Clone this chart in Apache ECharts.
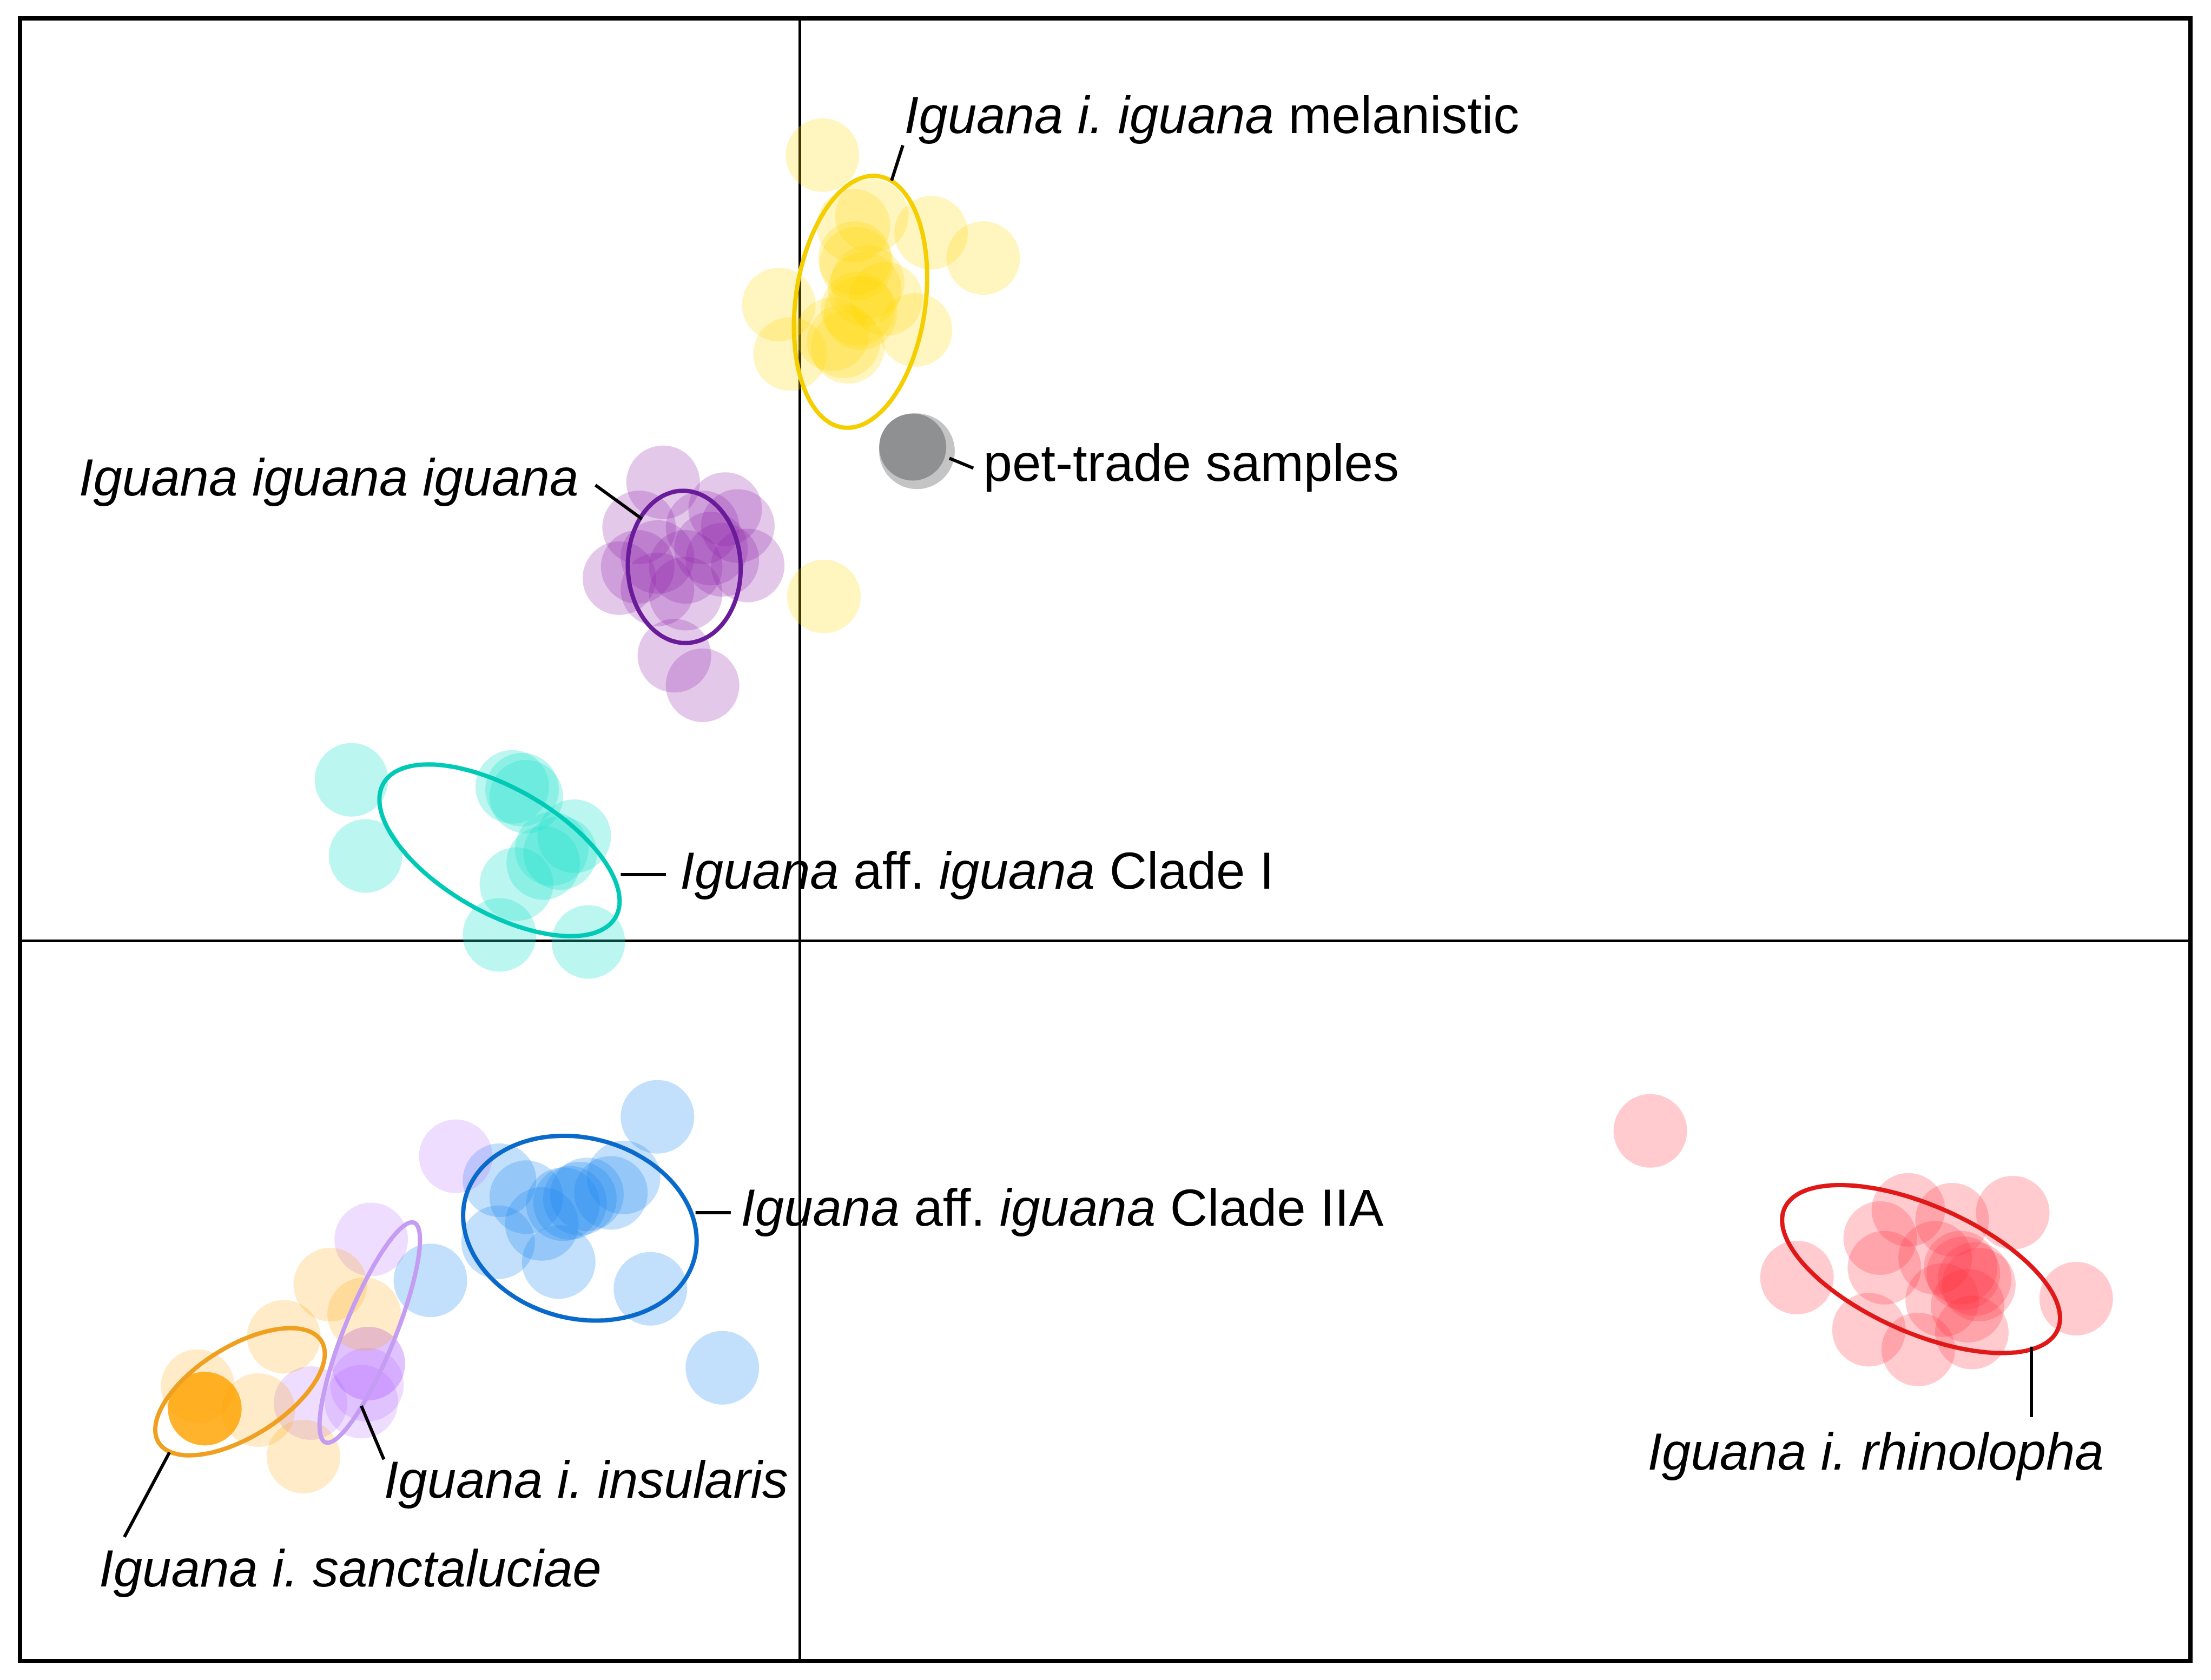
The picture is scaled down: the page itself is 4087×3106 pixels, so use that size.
<!DOCTYPE html>
<html><head><meta charset="utf-8">
<script src="https://cdn.jsdelivr.net/npm/echarts@6/dist/echarts.min.js"></script>
<style>html,body{margin:0;padding:0;background:#fff}#c{width:4087px;height:3106px}</style>
</head><body><div id="c"></div>
<script>
// ---- data (discriminant-function scores) ----
const melanisticPts = [[0.32,11.14],[2.60,9.68],[1.86,10.04],[-0.30,9.02],[-0.14,8.32],[1.64,8.66],[0.78,9.68],[0.80,9.60],[0.96,9.34],[0.92,9.24],[0.86,8.90],[0.82,8.96],[0.68,8.42],[0.62,8.50],[0.46,8.60],[1.02,10.28],[1.22,9.10],[0.76,10.14],[0.34,4.88]];
const iguanaPts = [[-1.94,6.50],[-1.06,6.12],[-0.88,5.88],[-0.74,5.32],[-2.28,5.86],[-2.56,5.14],[-1.78,4.04],[-1.38,3.62],[-1.62,5.30],[-2.02,5.44],[-1.26,5.56],[-1.62,4.92],[-2.02,4.98],[-1.38,5.86],[-1.10,5.40],[-2.30,5.30]];
const clade1Pts = [[-6.36,2.28],[-6.16,1.20],[-4.08,2.18],[-3.88,2.04],[-3.94,2.14],[-3.20,1.48],[-3.40,1.24],[-3.64,1.10],[-3.52,1.30],[-4.02,0.80],[-4.26,0.08],[-3.00,-0.02]];
const clade2aPts = [[-2.02,-2.50],[-1.10,-6.06],[-2.12,-4.94],[-3.42,-4.56],[-4.28,-4.28],[-4.26,-3.40],[-3.88,-3.64],[-3.36,-3.74],[-3.26,-3.72],[-3.02,-3.60],[-3.12,-3.66],[-2.68,-3.58],[-2.50,-3.36],[-5.24,-4.82],[-3.66,-4.02]];
const insularisPts = [[-4.88,-3.06],[-6.08,-4.24],[-6.12,-6.00],[-6.12,-6.00],[-6.14,-6.30],[-6.22,-6.54],[-6.94,-6.56]];
const sanctaluciaePts = [[-8.44,-6.64],[-8.44,-6.64],[-8.44,-6.64],[-8.44,-6.64],[-8.44,-6.64],[-8.44,-6.64],[-8.44,-6.64],[-7.68,-6.66],[-7.32,-5.62],[-6.66,-4.88],[-7.04,-7.32],[-8.54,-6.32],[-6.18,-5.30]];
const rhinolophaPts = [[12.06,-2.70],[14.14,-4.78],[18.10,-5.08],[17.20,-3.86],[15.72,-3.82],[15.32,-4.22],[16.34,-3.96],[16.46,-4.64],[16.50,-4.72],[16.72,-4.88],[16.66,-4.80],[16.56,-5.18],[16.10,-4.50],[15.38,-4.64],[15.16,-5.52],[15.86,-5.80],[16.62,-5.56],[16.20,-5.10]];
const petTradePts = [[1.66,6.94],[1.60,7.00]];

// ellipse parameters: [centreX, centreY, semiMajor, semiMinor, angleDeg]
const melanisticEll = [0.86, 9.06, 1.80, 0.92, 82];
const iguanaEll = [-1.64, 5.30, 1.08, 0.80, 92];
const clade1Ell = [-4.26, 1.28, 1.90, 0.88, -30];
const clade2aEll = [-3.12, -4.08, 1.68, 1.28, -15];
const insularisEll = [-6.10, -5.56, 1.68, 0.36, 68];
const sanctaluciaeEll = [-7.94, -6.40, 1.36, 0.64, 32];
const rhinolophaEll = [15.90, -4.66, 2.12, 0.90, -24];

// labels
const labelTexts = [
  '{i|Iguana i. iguana}{n| melanistic}',
  '{n|pet-trade samples}',
  '{i|Iguana iguana iguana}',
  '{i|Iguana}{n| aff. }{i|iguana}{n| Clade I}',
  '{i|Iguana}{n| aff. }{i|iguana}{n| Clade IIA}',
  '{i|Iguana i. insularis}',
  '{i|Iguana i. sanctaluciae}',
  '{i|Iguana i. rhinolopha}'
];
const labelAnchors = [[1.48,11.66],[2.60,6.72],[-3.14,6.52],[-1.70,0.94],[-0.84,-3.84],[-5.90,-7.70],[-9.94,-8.96],[12.02,-7.30]];
const labelSides = ['right','right','left','right','right','right','right','right'];
const leaderLines = [
  [[1.30,10.78],[1.46,11.28]],
  [[2.12,6.84],[2.46,6.70]],
  [[-2.90,6.46],[-2.24,5.98]],
  [[-2.54,0.94],[-1.90,0.94]],
  [[-1.48,-3.86],[-0.98,-3.86]],
  [[-6.22,-6.60],[-5.90,-7.36]],
  [[-8.94,-7.26],[-9.58,-8.46]],
  [[17.46,-5.76],[17.46,-6.76]]
];

// ---- styles ----
const FONT = 'Liberation Sans, Arial, Helvetica, sans-serif';
const groups = [
  {pts: melanisticPts, ell: melanisticEll, fill: '#FFD700', op: 0.25, stroke: '#F5CE00'},
  {pts: iguanaPts, ell: iguanaEll, fill: '#8E24AA', op: 0.25, stroke: '#6A1B9A'},
  {pts: clade1Pts, ell: clade1Ell, fill: '#22E0CC', op: 0.30, stroke: '#00C9B5'},
  {pts: clade2aPts, ell: clade2aEll, fill: '#1E88F0', op: 0.27, stroke: '#0A6ACB'},
  {pts: insularisPts, ell: insularisEll, fill: '#B266FF', op: 0.22, stroke: '#C49CF2'},
  {pts: sanctaluciaePts, ell: sanctaluciaeEll, fill: '#FFA500', op: 0.22, stroke: '#F0A020'},
  {pts: rhinolophaPts, ell: rhinolophaEll, fill: '#FF3040', op: 0.25, stroke: '#E01818'}
];

function ellipseRender(color) {
  return function (params, api) {
    const cx = api.value(0), cy = api.value(1), a = api.value(2), b = api.value(3);
    const ang = api.value(4) * Math.PI / 180;
    const pts = [];
    for (let k = 0; k < 120; k++) {
      const t = k / 120 * 2 * Math.PI;
      const ex = a * Math.cos(t), ey = b * Math.sin(t);
      pts.push(api.coord([cx + ex * Math.cos(ang) - ey * Math.sin(ang), cy + ex * Math.sin(ang) + ey * Math.cos(ang)]));
    }
    return {type: 'polygon', shape: {points: pts}, style: {fill: 'none', stroke: color, lineWidth: 8}};
  };
}

const series = [];
groups.forEach(g => {
  series.push({type: 'scatter', data: g.pts, symbolSize: 136, silent: true, z: 2,
    itemStyle: {color: g.fill, opacity: g.op}});
});
groups.forEach(g => {
  series.push({type: 'custom', data: [g.ell], renderItem: ellipseRender(g.stroke), silent: true, z: 4,
    encode: {x: 0, y: 1}});
});
series.push({type: 'scatter', data: [petTradePts[0]], symbolSize: 140, silent: true, z: 3,
  itemStyle: {color: '#C4C4C4', opacity: 1}});
series.push({type: 'scatter', data: [petTradePts[1]], symbolSize: 124, silent: true, z: 3,
  itemStyle: {color: '#8F9092', opacity: 1}});
series.push({type: 'lines', coordinateSystem: 'cartesian2d', silent: true, z: 5,
  data: leaderLines.map(c => ({coords: c})),
  lineStyle: {color: '#000', width: 6, opacity: 1}});
series.push({type: 'scatter', silent: true, z: 6, symbolSize: 0.1,
  itemStyle: {color: 'transparent'},
  data: labelAnchors.map((p, i) => ({value: p, label: {position: labelSides[i]}})),
  label: {show: true, distance: 0, formatter: p => labelTexts[p.dataIndex],
    fontSize: 96, fontFamily: FONT, color: '#000', opacity: 1,
    rich: {
      i: {fontStyle: 'italic', fontSize: 96, fontFamily: FONT, color: '#000'},
      n: {fontStyle: 'normal', fontSize: 96, fontFamily: FONT, color: '#000'}
    }}
});

const chart = echarts.init(document.getElementById('c'), null, {renderer: 'canvas'});
chart.setOption({
  animation: false,
  backgroundColor: '#fff',
  grid: {left: 37, right: 38, top: 34, bottom: 35, show: true, borderColor: '#000', borderWidth: 8, containLabel: false},
  xAxis: {type: 'value', min: -11.06, max: 19.72,
    axisLine: {show: true, onZero: true, lineStyle: {color: '#000', width: 5}},
    axisTick: {show: false}, axisLabel: {show: false}, splitLine: {show: false}},
  yAxis: {type: 'value', min: -10.22, max: 13.08,
    axisLine: {show: true, onZero: true, lineStyle: {color: '#000', width: 5}},
    axisTick: {show: false}, axisLabel: {show: false}, splitLine: {show: false}},
  series: series
});
</script></body></html>
